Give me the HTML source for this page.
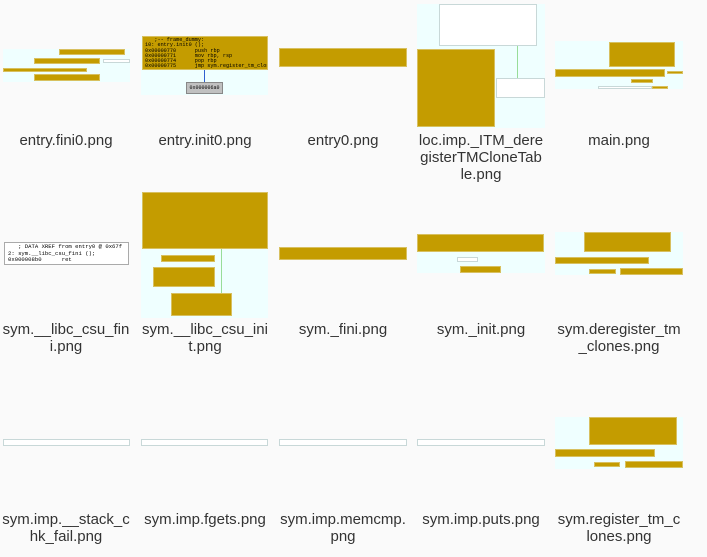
<!DOCTYPE html>
<html><head><meta charset="utf-8"><style>
html,body{margin:0;padding:0;width:707px;height:557px;background:#fafafa;overflow:hidden;position:relative}
.a{position:absolute;box-sizing:border-box;overflow:hidden}
.c{background:#efffff}
.g{background:#c49c00;border:1px solid #d8c060}
.w{background:#fff;border:1px solid #c8d8d8}
.gr{background:#c0c0c0;border:1px solid #888}
.l{position:absolute;width:138px;text-align:center;font-family:"Liberation Sans",sans-serif;font-size:15px;line-height:17px;color:#333}
.m{font-family:"Liberation Mono",monospace;color:#000;white-space:pre}
.ln{position:absolute;width:1px}
</style></head><body>
<!-- entry.fini0 -->
<div class="a c" style="left:3px;top:49px;width:127px;height:33px"></div>
<div class="a g" style="left:59px;top:49px;width:66px;height:6px"></div>
<div class="a g" style="left:34px;top:58px;width:66px;height:6px"></div>
<div class="a g" style="left:3px;top:68px;width:84px;height:4px"></div>
<div class="a g" style="left:34px;top:74px;width:66px;height:7px"></div>
<div class="a w" style="left:103px;top:59px;width:27px;height:4px"></div>
<!-- entry.init0 -->
<div class="a c" style="left:141px;top:36px;width:127px;height:59px"></div>
<div class="a g m" style="left:142px;top:36px;width:126px;height:34px;font-size:5.2px;line-height:5.3px;padding:1px 0 0 2px">   ;-- frame_dummy:
10: entry.init0 ();
0x00000770      push rbp
0x00000771      mov rbp, rsp
0x00000774      pop rbp
0x00000775      jmp sym.register_tm_clones</div>
<div class="ln" style="left:204px;top:70px;height:12px;background:#3060d0"></div>
<div class="a gr m" style="left:186px;top:82px;width:37px;height:12px;font-size:5px;line-height:10px;text-align:center">0x000006a0</div>
<!-- entry0 -->
<div class="a g" style="left:279px;top:48px;width:128px;height:19px"></div>
<!-- loc.imp -->
<div class="a c" style="left:417px;top:4px;width:128px;height:124px"></div>
<div class="a w" style="left:439px;top:4px;width:98px;height:42px"></div>
<div class="a g" style="left:417px;top:49px;width:78px;height:78px"></div>
<div class="a w" style="left:496px;top:78px;width:49px;height:20px"></div>
<div class="ln" style="left:517px;top:46px;height:32px;background:#9d9"></div>
<!-- main -->
<div class="a c" style="left:555px;top:41px;width:128px;height:48px"></div>
<div class="a g" style="left:609px;top:42px;width:66px;height:25px"></div>
<div class="a g" style="left:555px;top:69px;width:110px;height:8px"></div>
<div class="a g" style="left:667px;top:71px;width:16px;height:3px"></div>
<div class="a g" style="left:631px;top:79px;width:22px;height:4px"></div>
<div class="a w" style="left:598px;top:86px;width:54px;height:3px"></div>
<div class="a g" style="left:652px;top:86px;width:16px;height:3px"></div>

<div class="l" style="left:-3px;top:132px">entry.fini0.png</div>
<div class="l" style="left:136px;top:132px">entry.init0.png</div>
<div class="l" style="left:274px;top:132px">entry0.png</div>
<div class="l" style="left:412px;top:132px">loc.imp._ITM_dere<br>gisterTMCloneTab<br>le.png</div>
<div class="l" style="left:550px;top:132px">main.png</div>

<!-- row 2 -->
<div class="a w m" style="left:4px;top:242px;width:125px;height:23px;font-size:5.6px;line-height:6.5px;padding:1px 0 0 3px;border-color:#aaa">   ; DATA XREF from entry0 @ 0x67f
2: sym.__libc_csu_fini ();
0x000008b0      ret</div>
<div class="a c" style="left:141px;top:192px;width:127px;height:126px"></div>
<div class="a g" style="left:142px;top:192px;width:126px;height:57px"></div>
<div class="a g" style="left:161px;top:255px;width:54px;height:7px"></div>
<div class="a g" style="left:153px;top:267px;width:62px;height:20px"></div>
<div class="a g" style="left:171px;top:293px;width:61px;height:23px"></div>
<div class="ln" style="left:221px;top:249px;height:44px;background:#9d9"></div>
<div class="a g" style="left:279px;top:247px;width:128px;height:13px"></div>
<div class="a c" style="left:417px;top:234px;width:128px;height:39px"></div>
<div class="a g" style="left:417px;top:234px;width:127px;height:18px"></div>
<div class="a w" style="left:457px;top:257px;width:21px;height:5px"></div>
<div class="a g" style="left:460px;top:266px;width:41px;height:7px"></div>
<div class="a c" style="left:555px;top:232px;width:128px;height:43px"></div>
<div class="a g" style="left:584px;top:232px;width:87px;height:20px"></div>
<div class="a g" style="left:555px;top:257px;width:94px;height:7px"></div>
<div class="a g" style="left:589px;top:269px;width:27px;height:5px"></div>
<div class="a g" style="left:620px;top:268px;width:63px;height:7px"></div>

<div class="l" style="left:-3px;top:321px">sym.__libc_csu_fin<br>i.png</div>
<div class="l" style="left:136px;top:321px">sym.__libc_csu_ini<br>t.png</div>
<div class="l" style="left:274px;top:321px">sym._fini.png</div>
<div class="l" style="left:412px;top:321px">sym._init.png</div>
<div class="l" style="left:550px;top:321px">sym.deregister_tm<br>_clones.png</div>

<!-- row 3 -->
<div class="a w" style="left:3px;top:439px;width:127px;height:7px"></div>
<div class="a w" style="left:141px;top:439px;width:127px;height:7px"></div>
<div class="a w" style="left:279px;top:439px;width:128px;height:7px"></div>
<div class="a w" style="left:417px;top:439px;width:128px;height:7px"></div>
<div class="a c" style="left:555px;top:417px;width:128px;height:52px"></div>
<div class="a g" style="left:589px;top:417px;width:88px;height:28px"></div>
<div class="a g" style="left:555px;top:449px;width:100px;height:8px"></div>
<div class="a g" style="left:594px;top:462px;width:26px;height:5px"></div>
<div class="a g" style="left:625px;top:461px;width:58px;height:7px"></div>

<div class="l" style="left:-3px;top:511px">sym.imp.__stack_c<br>hk_fail.png</div>
<div class="l" style="left:136px;top:511px">sym.imp.fgets.png</div>
<div class="l" style="left:274px;top:511px">sym.imp.memcmp.<br>png</div>
<div class="l" style="left:412px;top:511px">sym.imp.puts.png</div>
<div class="l" style="left:550px;top:511px">sym.register_tm_c<br>lones.png</div>
</body></html>
